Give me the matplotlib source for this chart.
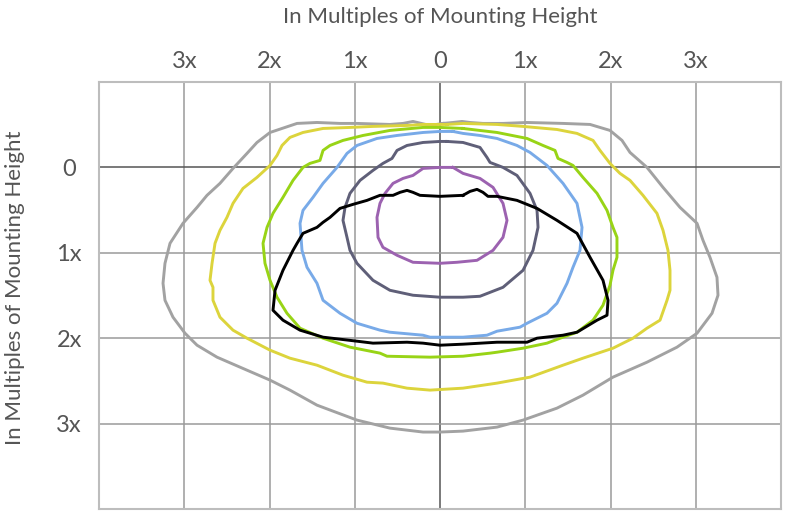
import numpy as np
import matplotlib
matplotlib.use("Agg")
import matplotlib.pyplot as plt

plt.rcParams['font.family'] = ['Lato', 'DejaVu Sans']

# Isolines (in multiples of mounting height): x lateral, y forward (down)
gray_x = [0.035, 0.152, 0.258, 0.352, 0.504, 0.739, 1.021, 1.443, 1.760, 1.994, 2.135, 2.229, 2.428, 2.616, 2.815, 3.015, 3.085, 3.167, 3.249, 3.261, 3.191, 3.015, 2.780, 2.428, 2.029, 1.677, 1.372, 0.974, 0.669, 0.270, 0.0, -0.199, -0.587, -0.974, -1.443, -1.760, -1.994, -2.346, -2.616, -2.850, -2.991, -3.132, -3.226, -3.249, -3.226, -3.167, -3.015, -2.850, -2.733, -2.581, -2.428, -2.264, -2.147, -1.994, -1.677, -1.443, -1.173, -0.974, -0.587, -0.434, -0.317, -0.117]
gray_y = [-0.515, -0.526, -0.538, -0.526, -0.515, -0.515, -0.526, -0.515, -0.503, -0.433, -0.316, -0.175, 0.0, 0.234, 0.468, 0.655, 0.854, 1.053, 1.287, 1.497, 1.708, 1.942, 2.105, 2.281, 2.456, 2.667, 2.819, 2.959, 3.041, 3.088, 3.099, 3.099, 3.053, 2.959, 2.784, 2.608, 2.491, 2.339, 2.222, 2.082, 1.942, 1.754, 1.556, 1.357, 1.123, 0.889, 0.655, 0.468, 0.327, 0.187, 0.012, -0.164, -0.292, -0.409, -0.515, -0.526, -0.515, -0.515, -0.503, -0.515, -0.538, -0.491]

yellow_x = [0.082, 0.270, 0.669, 0.974, 1.372, 1.607, 1.795, 1.877, 1.994, 2.111, 2.229, 2.381, 2.545, 2.616, 2.674, 2.698, 2.698, 2.663, 2.581, 2.428, 2.264, 2.029, 1.677, 1.443, 1.056, 0.669, 0.270, -0.117, -0.387, -0.669, -0.856, -1.138, -1.443, -1.760, -1.994, -2.264, -2.428, -2.581, -2.663, -2.663, -2.698, -2.674, -2.639, -2.581, -2.499, -2.428, -2.311, -2.147, -1.994, -1.912, -1.853, -1.760, -1.607, -1.372, -1.056, -0.786, -0.387, -0.199, 0.0]
yellow_y = [-0.503, -0.515, -0.503, -0.480, -0.444, -0.398, -0.316, -0.199, -0.047, 0.070, 0.152, 0.327, 0.538, 0.737, 0.971, 1.205, 1.439, 1.556, 1.789, 1.883, 2.000, 2.117, 2.234, 2.316, 2.456, 2.526, 2.585, 2.608, 2.585, 2.526, 2.515, 2.433, 2.316, 2.234, 2.140, 2.000, 1.906, 1.754, 1.556, 1.404, 1.322, 1.123, 0.889, 0.737, 0.585, 0.421, 0.246, 0.117, -0.023, -0.140, -0.257, -0.351, -0.409, -0.456, -0.468, -0.480, -0.491, -0.503, -0.503]

green_x = [0.270, 0.669, 1.021, 1.208, 1.349, 1.384, 1.490, 1.560, 1.677, 1.842, 1.959, 2.029, 2.076, 2.076, 2.029, 1.994, 1.912, 1.795, 1.607, 1.443, 1.255, 0.974, 0.669, 0.587, 0.270, -0.117, -0.622, -0.704, -1.056, -1.372, -1.642, -1.795, -1.912, -1.994, -2.053, -2.076, -2.029, -1.959, -1.842, -1.724, -1.607, -1.525, -1.408, -1.372, -1.290, -1.138, -0.903, -0.587, -0.199, 0.0]
green_y = [-0.456, -0.409, -0.339, -0.257, -0.199, -0.105, -0.058, -0.023, 0.117, 0.304, 0.503, 0.702, 0.819, 1.053, 1.205, 1.380, 1.614, 1.789, 1.930, 1.988, 2.058, 2.117, 2.164, 2.175, 2.211, 2.222, 2.211, 2.175, 2.105, 2.000, 1.883, 1.708, 1.520, 1.322, 1.123, 0.889, 0.702, 0.538, 0.351, 0.152, 0.0, -0.047, -0.082, -0.199, -0.257, -0.316, -0.374, -0.433, -0.468, -0.468]

blue_x = [0.152, 0.270, 0.469, 0.669, 0.903, 1.056, 1.255, 1.443, 1.607, 1.666, 1.642, 1.560, 1.490, 1.372, 1.255, 1.021, 0.938, 0.669, 0.551, 0.270, -0.117, -0.199, -0.587, -0.704, -0.974, -1.173, -1.372, -1.443, -1.560, -1.619, -1.642, -1.607, -1.490, -1.372, -1.208, -1.091, -0.974, -0.739, -0.504, -0.199, 0.0]
blue_y = [-0.421, -0.398, -0.374, -0.339, -0.257, -0.175, -0.023, 0.187, 0.421, 0.702, 0.971, 1.170, 1.357, 1.591, 1.708, 1.825, 1.871, 1.918, 1.965, 1.988, 1.988, 1.965, 1.930, 1.906, 1.825, 1.708, 1.556, 1.357, 1.170, 0.971, 0.655, 0.503, 0.351, 0.187, 0.0, -0.164, -0.257, -0.339, -0.374, -0.409, -0.421]

slate_x = [0.082, 0.270, 0.469, 0.551, 0.587, 0.739, 0.903, 1.056, 1.138, 1.150, 1.091, 0.974, 0.739, 0.469, 0.270, 0.0, -0.317, -0.587, -0.786, -0.974, -1.056, -1.091, -1.138, -1.114, -1.056, -0.938, -0.786, -0.669, -0.563, -0.504, -0.387, -0.199, 0.0]
slate_y = [-0.304, -0.292, -0.234, -0.117, -0.058, 0.0, 0.094, 0.304, 0.503, 0.702, 0.971, 1.205, 1.404, 1.509, 1.520, 1.520, 1.497, 1.439, 1.322, 1.123, 0.971, 0.819, 0.620, 0.468, 0.304, 0.152, 0.035, -0.047, -0.105, -0.199, -0.257, -0.292, -0.304]

purple_x = [0.152, 0.270, 0.469, 0.622, 0.739, 0.786, 0.739, 0.622, 0.434, 0.199, 0.0, -0.317, -0.504, -0.669, -0.727, -0.739, -0.704, -0.645, -0.551, -0.434, -0.317, -0.199, 0.0]
purple_y = [0.0, 0.070, 0.129, 0.234, 0.421, 0.620, 0.819, 0.971, 1.088, 1.111, 1.123, 1.111, 1.029, 0.936, 0.819, 0.585, 0.421, 0.304, 0.187, 0.129, 0.094, 0.012, 0.0]

black_x = [0.270, 0.352, 0.434, 0.504, 0.563, 0.669, 0.903, 1.138, 1.372, 1.607, 1.760, 1.912, 1.971, 1.959, 1.842, 1.607, 1.443, 1.138, 1.021, 0.669, 0.270, 0.0, -0.199, -0.387, -0.786, -0.974, -1.372, -1.642, -1.842, -1.959, -1.935, -1.842, -1.724, -1.677, -1.607, -1.443, -1.372, -1.290, -1.173, -1.021, -0.856, -0.704, -0.551, -0.469, -0.387, -0.317, -0.235, 0.0]
black_y = [0.327, 0.281, 0.257, 0.292, 0.339, 0.339, 0.386, 0.480, 0.620, 0.772, 1.053, 1.322, 1.556, 1.731, 1.789, 1.930, 1.965, 2.000, 2.047, 2.047, 2.070, 2.082, 2.058, 2.047, 2.058, 2.035, 1.988, 1.906, 1.789, 1.673, 1.439, 1.205, 0.971, 0.889, 0.772, 0.702, 0.643, 0.585, 0.480, 0.433, 0.386, 0.327, 0.327, 0.292, 0.269, 0.292, 0.327, 0.339]

x_ticks = [-3, -2, -1, 0, 1, 2, 3]
x_tick_labels = ["3x", "2x", "1x", "0", "1x", "2x", "3x"]
y_ticks = [0, 1, 2, 3]
y_tick_labels = ["0", "1x", "2x", "3x"]
axis_title = "In Multiples of Mounting Height"

series = [
    (gray_x, gray_y, "#a2a2a2"),
    (yellow_x, yellow_y, "#dcd43c"),
    (green_x, green_y, "#98d416"),
    (blue_x, blue_y, "#78aae8"),
    (slate_x, slate_y, "#5f5f78"),
    (purple_x, purple_y, "#9c62b0"),
    (black_x, black_y, "#000000"),
]

W, H = 791, 517
fig = plt.figure(figsize=(W / 100, H / 100), dpi=100)
ax = fig.add_axes([99 / W, (H - 509) / H, 682 / W, 427 / H])
ax.set_xlim(-4, 4)
ax.set_ylim(4, -1)

for v in x_ticks:
    ax.axvline(v, color="#555555" if v == 0 else "#9a9a9a", lw=1.1, zorder=1)
for v in y_ticks:
    ax.axhline(v, color="#555555" if v == 0 else "#9a9a9a", lw=1.1, zorder=1)

for xs, ys, c in series:
    xs = np.append(xs, xs[0])
    ys = np.append(ys, ys[0])
    ax.plot(xs, ys, color=c, lw=2.1, solid_joinstyle="round", zorder=3)

for s in ax.spines.values():
    s.set_color("#bdbdbd")
    s.set_linewidth(1.5)

ax.xaxis.tick_top()
ax.set_xticks(x_ticks)
ax.set_xticklabels(x_tick_labels)
ax.set_yticks(y_ticks)
ax.set_yticklabels(y_tick_labels, ha="center")
ax.tick_params(axis="x", length=0, pad=7, labelsize=17, labelcolor="#555555")
ax.tick_params(axis="y", length=0, pad=21.5, labelsize=17, labelcolor="#555555")

fig.text(440 / W, 1 - 17 / H, axis_title, ha="center", va="center",
         fontsize=16, color="#555555")
fig.text(15 / W, 1 - 288 / H, axis_title, ha="center", va="center",
         rotation=90, fontsize=16, color="#555555")

fig.savefig("out.png", dpi=100)
